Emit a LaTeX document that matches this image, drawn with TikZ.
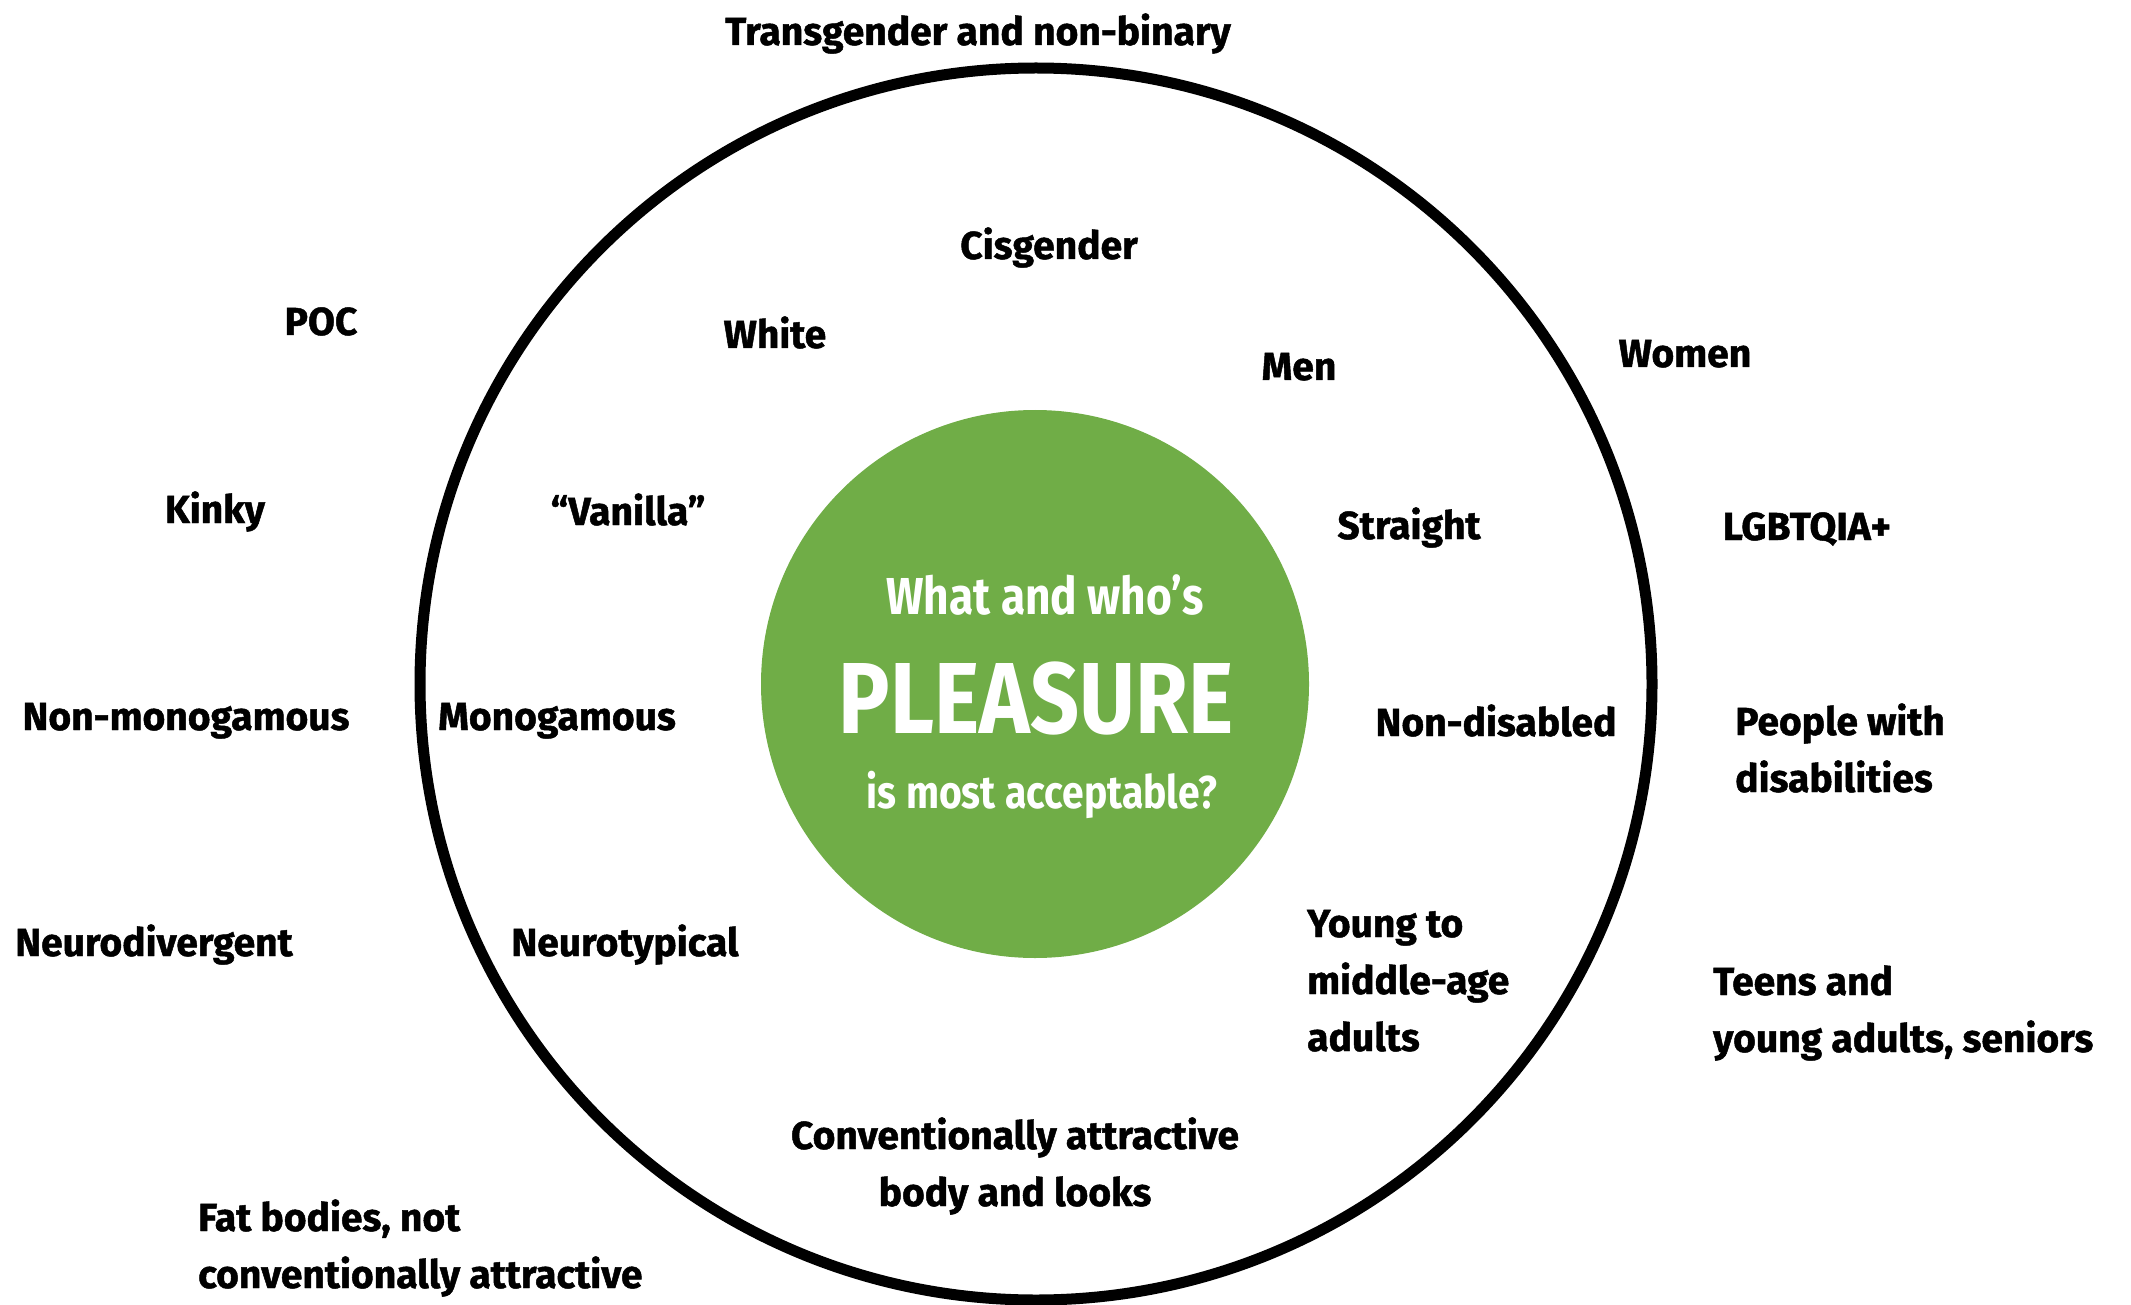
\documentclass[tikz,border=0pt]{standalone}
\usepackage{fontspec}
\setmainfont{Fira Sans}[FakeBold=1.2]
\newfontfamily\headfont{Fira Sans}[FakeStretch=0.85]
\definecolor{pleasuregreen}{HTML}{70AD47}

\begin{document}
\begin{tikzpicture}[x=1pt,y=-1pt,
  lbl/.style={font=\fontsize{39}{57}\selectfont\bfseries, inner sep=0pt, anchor=base},
  lblw/.style={lbl, align=left, anchor=base west},
  lblc/.style={lbl, align=center},
  head/.style={font=\headfont\fontsize{52}{56}\selectfont\bfseries, text=white, inner sep=0pt, anchor=base}]
\useasboundingbox (0,0) rectangle (2131,1305);

% rings
\node [circle, draw, line width=11pt, minimum size=1232pt, inner sep=0pt] (ring) at (1036,684) {};
\node [circle, fill=pleasuregreen, minimum size=548pt, inner sep=0pt] (core) at (1035,684) {};

% centre question
\node [head] (what) at (1045,614) {What and who’s};
\node [head, font=\headfont\fontsize{101}{110}\selectfont\bfseries] (pleasure) at (1036,733) {PLEASURE};
\node [head, font=\headfont\fontsize{46}{56}\selectfont\bfseries] (accept) at (1042,808) {is most acceptable?};

% inside the ring (multi-line nodes sit on their last line)
\node [lbl] (cis) at (1049,259) {Cisgender};
\node [lbl] (white) at (775,348) {White};
\node [lbl] (men) at (1299,380) {Men};
\node [lbl] (vanilla) at (628,525) {“Vanilla”};
\node [lbl] (straight) at (1409,539) {Straight};
\node [lbl] (mono) at (557,730) {Monogamous};
\node [lbl] (nondis) at (1496,736) {Non-disabled};
\node [lbl] (neurotyp) at (625,956) {Neurotypical};
\node [lblw] (young) at (1307,1051) {Young to\\middle-age\\adults};
\node [lblc] (conv) at (1015,1206) {Conventionally attractive\\body and looks};

% outside the ring
\node [lbl] (trans) at (978,45) {Transgender and non-binary};
\node [lbl] (poc) at (321,335) {POC};
\node [lbl] (women) at (1685,367) {Women};
\node [lbl] (kinky) at (215,523) {Kinky};
\node [lbl] (lgbt) at (1807,540) {LGBTQIA+};
\node [lbl] (nonmono) at (186,730) {Non-monogamous};
\node [lblw] (disab) at (1735,792) {People with\\disabilities};
\node [lbl] (neurodiv) at (154,956) {Neurodivergent};
\node [lblw] (teens) at (1713,1052) {Teens and\\young adults, seniors};
\node [lblw] (fat) at (198,1288) {Fat bodies, not\\conventionally attractive};
\end{tikzpicture}
\end{document}
